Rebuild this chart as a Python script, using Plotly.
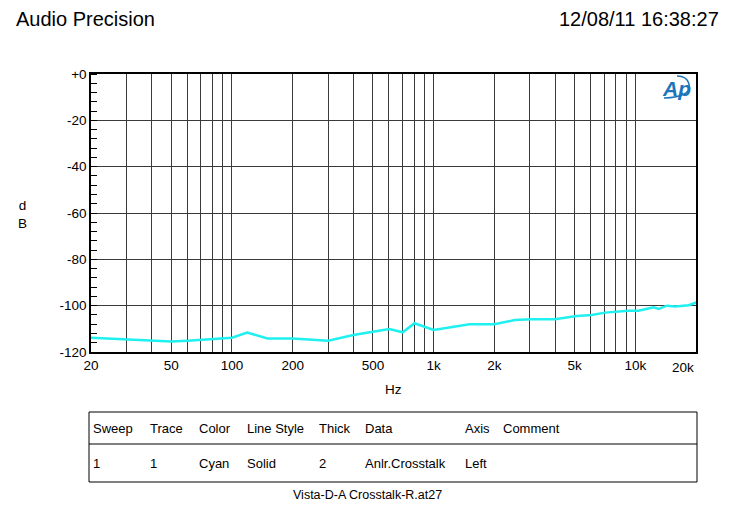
import plotly.graph_objects as go

# ---- data ----
freq_hz = [20, 30, 40, 50, 60, 70, 80, 90, 100, 119, 150, 200, 300, 400, 500, 603,
           703, 803, 1000, 1507, 2000, 2524, 3055, 3990, 5120, 6080, 7080, 9250,
           10370, 11200, 12330, 13040, 14350, 15780, 18400, 20230]
crosstalk_db = [-113.8, -114.5, -115.0, -115.5, -115.1, -114.7, -114.2, -113.9, -113.8,
                -111.6, -114.2, -114.2, -115.1, -112.7, -111.2, -110.1, -111.5, -107.6,
                -110.5, -108.0, -108.0, -106.2, -105.9, -105.9, -104.5, -104.0, -103.0,
                -102.2, -102.2, -101.6, -100.7, -101.4, -100.0, -100.4, -99.8, -98.5]

x_grid = [20, 30, 40, 50, 60, 70, 80, 90, 100, 200, 300, 400, 500, 600, 700, 800, 900,
          1000, 2000, 3000, 4000, 5000, 6000, 7000, 8000, 9000, 10000, 20000]
x_labels = {20: "20", 50: "50", 100: "100", 200: "200", 500: "500", 1000: "1k",
            2000: "2k", 5000: "5k", 10000: "10k"}
y_ticks = [0, -20, -40, -60, -80, -100, -120]
y_ticklabels = ["+0", "-20", "-40", "-60", "-80", "-100", "-120"]

table_header = ["Sweep", "Trace", "Color", "Line Style", "Thick", "Data", "Axis", "Comment"]
table_row = ["1", "1", "Cyan", "Solid", "2", "Anlr.Crosstalk", "Left", ""]
col_px = [91, 148, 197, 245, 317, 363, 463, 501]

W, H = 738, 505
L, R, T, B = 91, 696, 74, 352
FONT = "Liberation Sans, Arial, sans-serif"

def px(x):
    return (x - L) / (R - L)

def py(y):
    return (B - y) / (B - T)

fig = go.Figure()
fig.add_trace(go.Scatter(x=freq_hz, y=crosstalk_db, mode="lines",
                         line=dict(color="#1FF0F0", width=2.5), showlegend=False,
                         hoverinfo="skip"))

fig.update_layout(
    width=W, height=H,
    margin=dict(l=L, r=W - R, t=T, b=H - B),
    paper_bgcolor="white", plot_bgcolor="white",
    font=dict(family=FONT, size=13.5, color="black"),
    xaxis=dict(type="log", range=[1.30103, 4.30103],
               tickvals=x_grid,
               ticktext=[x_labels.get(v, "") for v in x_grid],
               showgrid=True, gridcolor="#3a3a3a", gridwidth=1,
               showline=True, linecolor="black", linewidth=1.5, mirror=True,
               ticks="", tickfont=dict(size=13.5), zeroline=False),
    yaxis=dict(range=[-120, 0], tickvals=y_ticks, ticktext=y_ticklabels,
               showgrid=True, gridcolor="#3a3a3a", gridwidth=1,
               showline=True, linecolor="black", linewidth=1.5, mirror=True,
               ticks="", tickfont=dict(size=13.5), zeroline=False,
               minor=dict(dtick=4, ticks="inside", ticklen=6, tickcolor="black",
                          showgrid=False)),
)

ann = []
ann.append(dict(text="Audio Precision", x=px(14), y=py(19), xref="paper", yref="paper",
                xanchor="left", yanchor="middle", showarrow=False, font=dict(size=20)))
ann.append(dict(text="12/08/11 16:38:27", x=px(721), y=py(19), xref="paper", yref="paper",
                xanchor="right", yanchor="middle", showarrow=False, font=dict(size=20)))
ann.append(dict(text="d<br>B", x=px(22), y=py(214), xref="paper", yref="paper",
                xanchor="center", yanchor="middle", showarrow=False, font=dict(size=13.5)))
ann.append(dict(text="Hz", x=px(393), y=py(389), xref="paper", yref="paper",
                xanchor="center", yanchor="middle", showarrow=False, font=dict(size=13.5)))
ann.append(dict(text="20k", x=4.30103, y=py(367), xref="x", yref="paper",
                xanchor="right", yanchor="middle", showarrow=False, font=dict(size=13.5)))
ann.append(dict(text="<i><b>Ap</b></i>", x=px(676), y=py(88), xref="paper", yref="paper",
                xanchor="center", yanchor="middle", showarrow=False,
                font=dict(size=21, color="#1B75BB")))
for xp, h, r in zip(col_px, table_header, table_row):
    ann.append(dict(text=h, x=px(xp), y=py(428), xref="paper", yref="paper",
                    xanchor="left", yanchor="middle", showarrow=False, font=dict(size=13)))
    if r:
        ann.append(dict(text=r, x=px(xp), y=py(463), xref="paper", yref="paper",
                        xanchor="left", yanchor="middle", showarrow=False, font=dict(size=13)))
ann.append(dict(text="Vista-D-A Crosstalk-R.at27", x=px(367), y=py(495), xref="paper",
                yref="paper", xanchor="center", yanchor="middle", showarrow=False,
                font=dict(size=12.5)))

shapes = [
    dict(type="rect", xref="paper", yref="paper", x0=px(89), x1=px(697),
         y0=py(412), y1=py(482), line=dict(color="black", width=1)),
    dict(type="line", xref="paper", yref="paper", x0=px(89), x1=px(697),
         y0=py(444), y1=py(444), line=dict(color="black", width=1)),
    dict(type="path", xref="paper", yref="paper",
         path=f"M {px(664)} {py(98)} Q {px(692)} {py(97)} {px(689)} {py(84)} Q {px(687)} {py(76)} {px(677)} {py(76)}",
         line=dict(color="#1B75BB", width=1.5)),
]

fig.update_layout(annotations=ann, shapes=shapes)
fig.write_html("out.html", config={"displayModeBar": False},
               post_script="document.body.style.margin='0';document.body.style.overflow='hidden';")
